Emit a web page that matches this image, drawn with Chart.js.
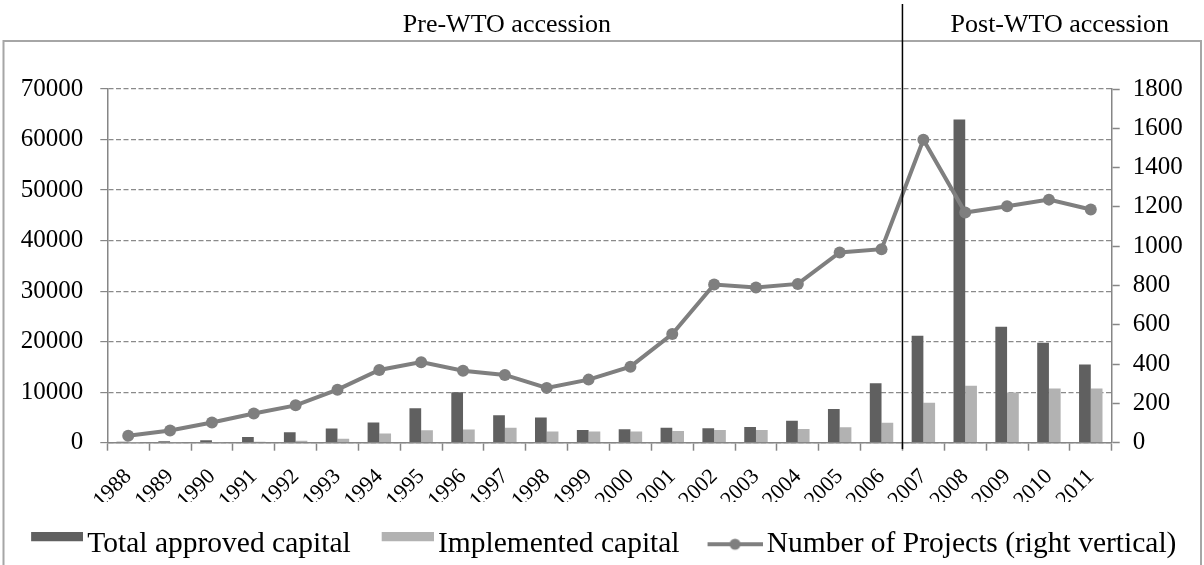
<!DOCTYPE html>
<html>
<head>
<meta charset="utf-8">
<script src="https://cdn.jsdelivr.net/npm/chart.js@4.4.1/dist/chart.umd.min.js"></script>
<style>
    html, body { margin: 0; padding: 0; background: #ffffff; }
    #wrap { width: 1204px; height: 565px; }
</style>
</head>
<body>
<div id="wrap"><canvas id="ControlFdiChart"></canvas></div>
<script>
// years on the category axis
var years = ['1988', '1989', '1990', '1991', '1992', '1993', '1994', '1995', '1996', '1997', '1998', '1999',
    '2000', '2001', '2002', '2003', '2004', '2005', '2006', '2007', '2008', '2009', '2010', '2011'];

// left axis (capital)
var totalApproved = [200, 300, 500, 1150, 2050, 2800, 4000, 6800, 10000, 5450, 5000, 2500,
    2650, 2950, 2850, 3100, 4350, 6650, 11750, 21150, 63950, 22950, 19800, 15500];
var implemented = [50, 80, 100, 200, 400, 800, 1800, 2450, 2600, 2950, 2200, 2200,
    2200, 2300, 2500, 2500, 2700, 3050, 3950, 7900, 11250, 9950, 10750, 10750];

// right axis (number of projects)
var projects = [35, 62, 103, 149, 190, 270, 370, 410, 366, 345, 279, 321,
    387, 553, 805, 790, 808, 968, 985, 1542, 1171, 1203, 1237, 1187];

var leftTicks = { min: 0, max: 70000, step: 10000 };
var rightTicks = { min: 0, max: 1800, step: 200 };

var periodLabels = ['Pre-WTO accession', 'Post-WTO accession'];
var splitAfterYear = '2006';

var fdiChart = {

    darkGrey: '#606060',
    lightGrey: '#b2b2b2',
    lineGrey: '#7f7f7f',
    axisGrey: '#868686',
    font: 'Liberation Serif',

    legendBox: function (color) {
        var c = document.createElement('canvas');
        c.width = 66;
        c.height = 24;
        var g = c.getContext('2d');
        g.fillStyle = color;
        g.fillRect(14, -1, 52, 10);
        return c;
    },

    legendLine: function () {
        var c = document.createElement('canvas');
        c.width = 66;
        c.height = 24;
        var g = c.getContext('2d');
        g.strokeStyle = fdiChart.lineGrey;
        g.lineWidth = 4;
        g.beginPath();
        g.moveTo(11, 12);
        g.lineTo(66, 12);
        g.stroke();
        g.fillStyle = fdiChart.lineGrey;
        g.beginPath();
        g.arc(38.5, 12, 5.5, 0, Math.PI * 2);
        g.fill();
        return c;
    },

    plainNumber: function (value) {
        return String(value);
    },

    // frame, split line and the two period captions
    periodPlugin: {
        id: 'periods',
        beforeDraw: function (chart) {
            var ctx = chart.ctx;
            ctx.save();
            ctx.strokeStyle = '#a6a6a6';
            ctx.lineWidth = 2;
            ctx.strokeRect(3.5, 41, 1197.5, 600);
            ctx.restore();
        },
        afterDraw: function (chart) {
            var ctx = chart.ctx;
            var xs = chart.scales.x;
            var i = years.indexOf(splitAfterYear);
            var splitX = (xs.getPixelForValue(i) + xs.getPixelForValue(i + 1)) / 2;

            ctx.save();
            ctx.strokeStyle = '#000000';
            ctx.lineWidth = 1.5;
            ctx.beginPath();
            ctx.moveTo(splitX, 4);
            ctx.lineTo(splitX, 449);
            ctx.stroke();

            ctx.fillStyle = '#000000';
            ctx.font = '26px "' + fdiChart.font + '"';
            ctx.textAlign = 'center';
            ctx.textBaseline = 'alphabetic';
            ctx.fillText(periodLabels[0], (chart.chartArea.left + splitX) / 2 + 2, 32);
            ctx.fillText(periodLabels[1], (splitX + 1201) / 2 + 8, 32);
            ctx.restore();
        }
    },

    init: function () {
        var ctx = document.getElementById('ControlFdiChart').getContext('2d');

        new Chart(ctx, {
            type: 'bar',
            data: {
                labels: years,
                datasets: [{
                    type: 'line',
                    label: 'Number of Projects (right vertical)',
                    data: projects,
                    yAxisID: 'y1',
                    borderColor: fdiChart.lineGrey,
                    backgroundColor: fdiChart.lineGrey,
                    borderWidth: 4,
                    pointRadius: 6,
                    pointBorderWidth: 0,
                    pointBackgroundColor: fdiChart.lineGrey,
                    tension: 0,
                    order: 0
                },
                {
                    label: 'Total approved capital',
                    data: totalApproved,
                    yAxisID: 'y',
                    backgroundColor: fdiChart.darkGrey,
                    categoryPercentage: 0.56,
                    barPercentage: 1.0,
                    order: 1
                },
                {
                    label: 'Implemented capital',
                    data: implemented,
                    yAxisID: 'y',
                    backgroundColor: fdiChart.lightGrey,
                    categoryPercentage: 0.56,
                    barPercentage: 1.0,
                    order: 2
                }]
            },
            options: {
                responsive: true,
                maintainAspectRatio: false,
                animation: false,
                layout: {
                    padding: { top: 89, left: 0, right: 0, bottom: -4 }
                },
                plugins: {
                    tooltip: { enabled: false },
                    legend: {
                        position: 'bottom',
                        labels: {
                            usePointStyle: true,
                            pointStyleWidth: 45,
                            boxHeight: 29.5,
                            padding: 27.5,
                            color: '#000000',
                            font: { family: fdiChart.font, size: 29.5 },
                            generateLabels: function () {
                                return [
                                    { text: 'Total approved capital', pointStyle: fdiChart.legendBox(fdiChart.darkGrey), datasetIndex: 1, lineWidth: 0, strokeStyle: 'rgba(0,0,0,0)', fillStyle: fdiChart.darkGrey },
                                    { text: 'Implemented capital', pointStyle: fdiChart.legendBox(fdiChart.lightGrey), datasetIndex: 2, lineWidth: 0, strokeStyle: 'rgba(0,0,0,0)', fillStyle: fdiChart.lightGrey },
                                    { text: 'Number of Projects (right vertical)', pointStyle: fdiChart.legendLine(), datasetIndex: 0, lineWidth: 0, strokeStyle: 'rgba(0,0,0,0)', fillStyle: fdiChart.lineGrey }
                                ];
                            }
                        }
                    }
                },
                scales: {
                    x: {
                        offset: true,
                        afterFit: function (scale) { scale.height = 59.3; },
                        grid: {
                            offset: true,
                            drawOnChartArea: false,
                            drawTicks: true,
                            tickLength: 8,
                            tickColor: fdiChart.axisGrey,
                            tickWidth: 1.5
                        },
                        border: { color: fdiChart.axisGrey, width: 1.5 },
                        ticks: {
                            autoSkip: false,
                            minRotation: 45,
                            maxRotation: 45,
                            padding: 13,
                            color: '#000000',
                            font: { family: fdiChart.font, size: 22 }
                        }
                    },
                    y: {
                        position: 'left',
                        min: leftTicks.min,
                        max: leftTicks.max,
                        afterFit: function (scale) { scale.width = 107.3; },
                        grid: {
                            color: '#8a8a8a',
                            lineWidth: 1.2,
                            tickLength: 7,
                            tickColor: fdiChart.axisGrey,
                            tickBorderDash: []
                        },
                        border: { color: fdiChart.axisGrey, width: 1.5, dash: [5, 2.5] },
                        ticks: {
                            stepSize: leftTicks.step,
                            padding: 17,
                            color: '#000000',
                            font: { family: fdiChart.font, size: 25 },
                            callback: fdiChart.plainNumber
                        }
                    },
                    y1: {
                        position: 'right',
                        min: rightTicks.min,
                        max: rightTicks.max,
                        afterFit: function (scale) { scale.width = 92.3; },
                        grid: {
                            drawOnChartArea: false,
                            tickLength: 8,
                            tickColor: fdiChart.axisGrey,
                            tickWidth: 1.5
                        },
                        border: { color: fdiChart.axisGrey, width: 1.5 },
                        ticks: {
                            stepSize: rightTicks.step,
                            padding: 13,
                            color: '#000000',
                            font: { family: fdiChart.font, size: 25 },
                            callback: fdiChart.plainNumber
                        }
                    }
                }
            },
            plugins: [fdiChart.periodPlugin]
        });
    }
};

fdiChart.init();
</script>
</body>
</html>
